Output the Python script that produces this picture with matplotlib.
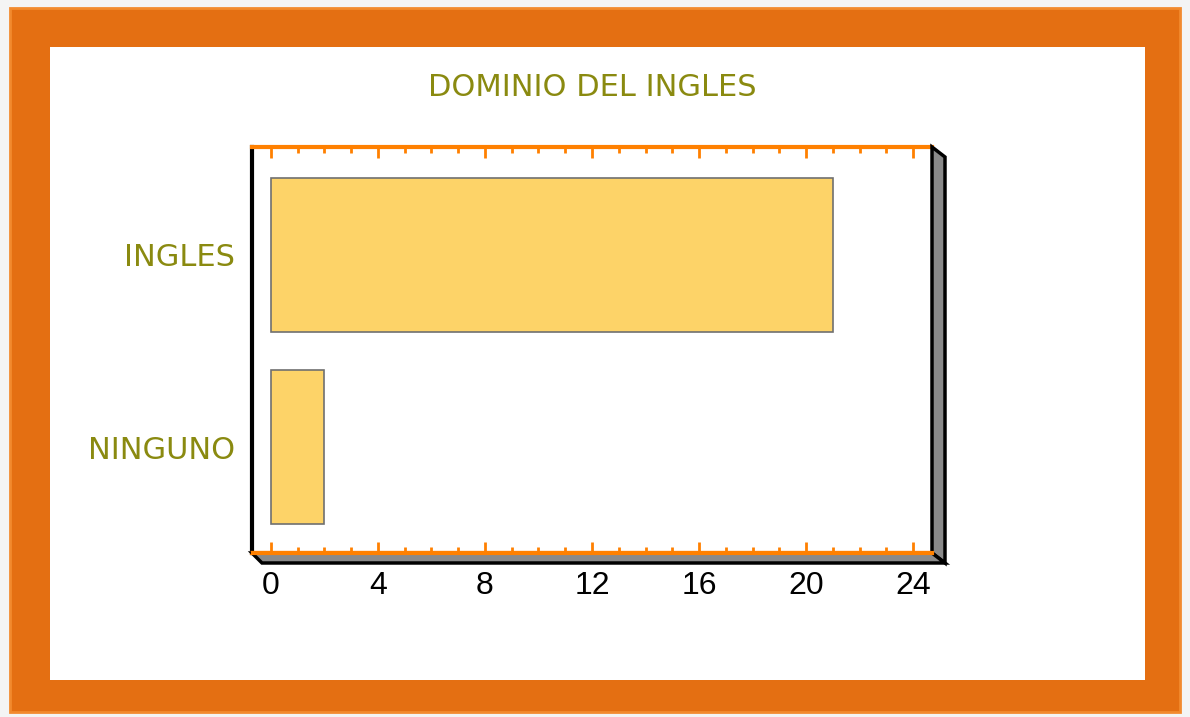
import matplotlib.pyplot as plt
from matplotlib.patches import Rectangle, Polygon
from matplotlib.ticker import MultipleLocator

# data
categories = ['NINGUNO', 'INGLES']
values = [2, 21]
x_ticks = [0, 4, 8, 12, 16, 20, 24]

W, H = 1190, 717
OLIVE = '#8A8A10'
ORANGE = '#FF8000'


def px(x, y):
    # pixel coords (from top-left) -> figure fraction
    return (x / W, 1 - y / H)


fig = plt.figure(figsize=(W / 100, H / 100), dpi=100)
fig.patch.set_facecolor('#F4F4F4')

# orange frame with white inside
fig.patches.append(Rectangle(px(10, 712), 1170 / W, 704 / H, transform=fig.transFigure,
                             facecolor='#E46F12', edgecolor='#F28A2E', lw=2, zorder=-3))
fig.patches.append(Rectangle(px(50, 680), 1095 / W, 633 / H, transform=fig.transFigure,
                             facecolor='white', edgecolor='none', zorder=-2))

# axes
ax = fig.add_axes([252 / W, 1 - 553 / H, 680 / W, 406 / H])
ax.set_zorder(1)
ax.barh(range(len(categories)), values, height=0.8, color='#FDD368',
        edgecolor='#707070', linewidth=1.2, zorder=3)

ax.set_xlim(-0.71, 24.71)
ax.set_ylim(-0.55, 1.56)
ax.set_yticks(range(len(categories)))
ax.set_yticklabels(categories, color=OLIVE, fontsize=22, family='DejaVu Sans')
ax.tick_params(axis='y', length=0, pad=12)

ax.set_xticks(x_ticks)
ax.xaxis.set_minor_locator(MultipleLocator(1))
ax.tick_params(axis='x', which='both', direction='in', color=ORANGE,
               top=True, bottom=True, width=2)
ax.tick_params(axis='x', which='major', length=8, labelsize=23, pad=13)
ax.tick_params(axis='x', which='minor', length=4)
for lbl in ax.get_xticklabels():
    lbl.set_family('Liberation Sans')

ax.spines['top'].set_color(ORANGE)
ax.spines['top'].set_linewidth(3)
ax.spines['bottom'].set_color(ORANGE)
ax.spines['bottom'].set_linewidth(3)
ax.spines['left'].set_color('black')
ax.spines['left'].set_linewidth(3)
ax.spines['right'].set_visible(False)

# 3d depth on right side and bottom
fig.patches.append(Polygon([px(932, 147), px(945, 157), px(945, 563), px(932, 553)],
                           closed=True, transform=fig.transFigure, facecolor='#8A8A8A',
                           edgecolor='black', lw=2.5, zorder=5))
fig.patches.append(Polygon([px(252, 553), px(932, 553), px(945, 563), px(262, 563)],
                           closed=True, transform=fig.transFigure, facecolor='#8A8A8A',
                           edgecolor='black', lw=2.5, zorder=5))
fig.lines.append(plt.Line2D([253 / W, 932 / W], [1 - 553 / H, 1 - 553 / H],
                            transform=fig.transFigure, color=ORANGE, lw=3, zorder=6))

fig.text(592 / W, 1 - 88 / H, 'DOMINIO DEL INGLES', ha='center', va='center',
         color=OLIVE, fontsize=22, family='DejaVu Sans')

fig.savefig('out.png', dpi=100)
